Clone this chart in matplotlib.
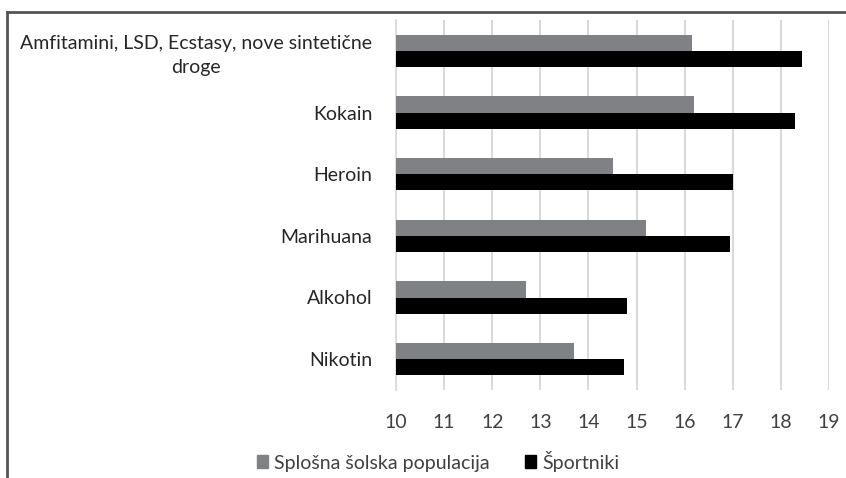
import matplotlib
matplotlib.use("Agg")
import matplotlib.pyplot as plt
from matplotlib.lines import Line2D
from matplotlib.patches import Patch
import numpy as np

categories = ["Amfitamini, LSD, Ecstasy, nove sintetične\ndroge", "Kokain", "Heroin",
              "Marihuana", "Alkohol", "Nikotin"]
splosna = [16.15, 16.2, 14.5, 15.2, 12.7, 13.7]
sportniki = [18.44, 18.3, 17.0, 16.94, 14.8, 14.73]
series_names = ["Splošna šolska populacija", "Športniki"]
xticks = list(range(10, 20))

plt.rcParams['font.family'] = ['Lato', 'DejaVu Sans']

W, H = 846, 478
fig = plt.figure(figsize=(W / 100, H / 100), dpi=100)
ax = fig.add_axes([396 / W, 1 - 390 / H, (829 - 396) / W, (390 - 20) / H])

y = np.arange(len(categories))
h = 0.26
ax.barh(y - h / 2, splosna, height=h, left=0, color="#808184", zorder=3)
ax.barh(y + h / 2, sportniki, height=h, left=0, color="#000000", zorder=3)
ax.set_xlim(10, 19)
ax.set_ylim(len(categories) - 0.5, -0.5)
ax.set_xticks(xticks)
ax.set_xticklabels([str(t) for t in xticks], fontsize=14, color="#404040")
ax.set_yticks(y)
ax.set_yticklabels(categories, fontsize=14, color="#262626", ha="right",
                   multialignment="center", linespacing=1.45)
ax.get_yticklabels()[0].set_y(-0.08)
ax.tick_params(axis="y", length=0, pad=17)
ax.tick_params(axis="x", length=0, pad=17)
ax.grid(axis="x", color="#d9d9d9", linewidth=1.5, zorder=0)
for s in ["top", "right", "bottom"]:
    ax.spines[s].set_visible(False)
ax.spines["left"].set_color("#d9d9d9")
ax.spines["left"].set_linewidth(1.2)

handles = [Patch(color="#808184"), Patch(color="#000000")]
fig.legend(handles, series_names, loc="center", bbox_to_anchor=(438 / W, 1 - 461 / H),
           ncol=2, frameon=False, fontsize=14, handlelength=0.6, handleheight=0.6,
           handletextpad=0.3, columnspacing=1.8, labelcolor="#404040")

# frame lines
fig.add_artist(Line2D([7 / W, 1], [1 - 12 / H, 1 - 12 / H], color="#555555", linewidth=2,
                      transform=fig.transFigure))
fig.add_artist(Line2D([7 / W, 7 / W], [0, 1 - 12 / H], color="#555555", linewidth=2,
                      transform=fig.transFigure))

fig.savefig("out.png", dpi=100)
